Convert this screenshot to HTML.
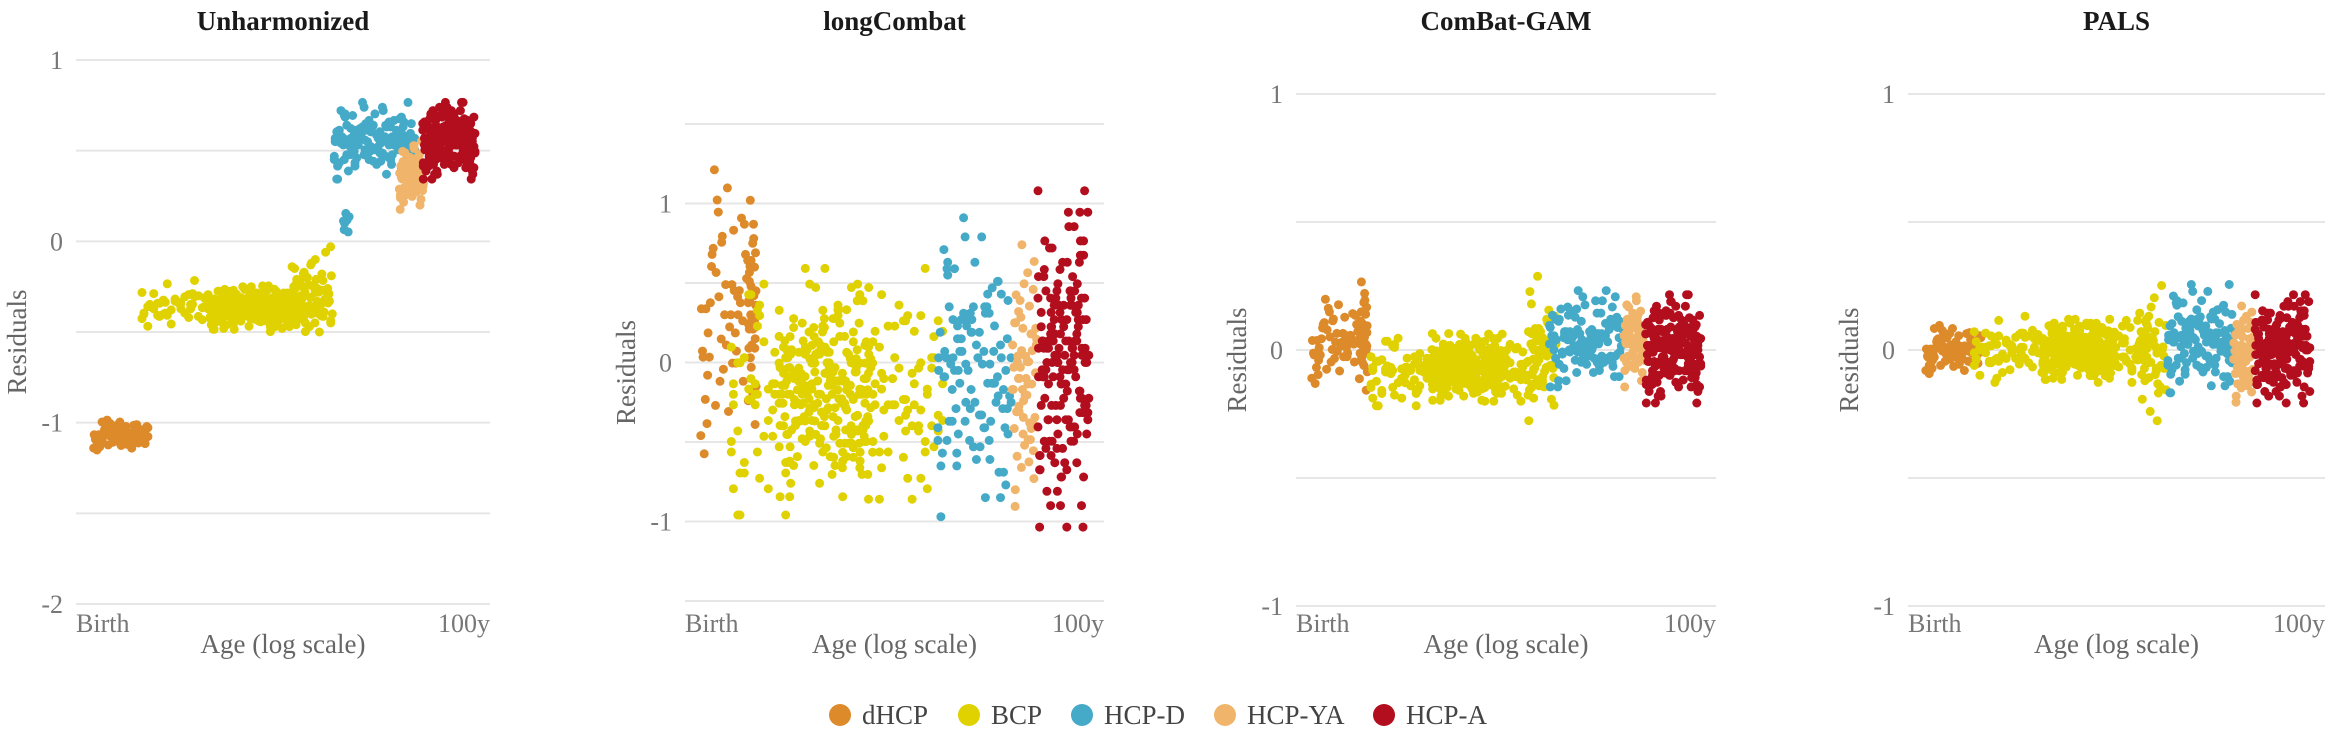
<!DOCTYPE html>
<html>
<head>
<meta charset="utf-8">
<style>
html,body{margin:0;padding:0;background:#fff;}
svg{display:block;}
text{font-family:"Liberation Serif",serif;}
</style>
</head>
<body>
<svg id="chart" width="2330" height="736" viewBox="0 0 2330 736" xmlns="http://www.w3.org/2000/svg"></svg>
<script>
// ---- data ----
const groupNames = ["dHCP","BCP","HCP-D","HCP-YA","HCP-A"];
const groupColors = ["#DD8A2A","#E0D100","#45AAC8","#F0B56A","#B20E1E"];
const panelTitles = ["Unharmonized","longCombat","ComBat-GAM","PALS"];

// clusters per panel: group index, log-age range (0=birth,1=100y), mean residual, spread, count
const p1Group = [0,1,1,1,2,2,3,4];
const p1X0    = [0.04,0.15,0.32,0.52,0.62,0.645,0.78,0.835];
const p1X1    = [0.175,0.62,0.55,0.62,0.82,0.66,0.84,0.965];
const p1Mean  = [-1.07,-0.36,-0.37,-0.27,0.55,0.1,0.36,0.55];
const p1Sd    = [0.035,0.06,0.05,0.1,0.09,0.06,0.08,0.09];
const p1N     = [80,130,220,50,130,8,70,190];

const p2Group = [0,0,1,1,2,3,4];
const p2X0    = [0.035,0.15,0.1,0.22,0.6,0.78,0.84];
const p2X1    = [0.17,0.17,0.62,0.45,0.78,0.84,0.965];
const p2Mean  = [0.3,0.3,-0.2,-0.2,-0.05,-0.1,0.0];
const p2Sd    = [0.38,0.3,0.33,0.28,0.4,0.35,0.45];
const p2N     = [60,30,200,180,110,60,170];

const p3Group = [0,0,1,1,1,2,3,4];
const p3X0    = [0.035,0.15,0.17,0.32,0.55,0.6,0.78,0.83];
const p3X1    = [0.17,0.17,0.6,0.5,0.62,0.78,0.83,0.965];
const p3Mean  = [0.03,0.05,-0.08,-0.07,0.0,0.04,0.04,0.0];
const p3Sd    = [0.07,0.09,0.06,0.055,0.12,0.08,0.08,0.09];
const p3N     = [60,30,180,200,40,120,60,180];

const p4Group = [0,1,1,1,2,3,4];
const p4X0    = [0.04,0.15,0.32,0.55,0.62,0.78,0.83];
const p4X1    = [0.176,0.6,0.5,0.62,0.785,0.83,0.965];
const p4Mean  = [0.0,0.0,0.0,0.0,0.04,-0.02,0.0];
const p4Sd    = [0.04,0.055,0.05,0.12,0.09,0.08,0.09];
const p4N     = [80,180,200,40,120,60,180];

// fixed jitter offsets (position within range, standardized deviation)
const jitterU = [0.03,0.51,0.77,0.22,0.94,0.38,0.65,0.11,0.86,0.47,0.29,0.72,0.05,0.58,0.91,0.34,0.19,0.83,0.44,0.67,0.08,0.97,0.26,0.61,0.13,0.79,0.40,0.55,0.88,0.17,0.70,0.31,0.99,0.46,0.24,0.63,0.06,0.81,0.36,0.53,0.92,0.15,0.74,0.42,0.28,0.60,0.85,0.10,0.68,0.33,0.95,0.21,0.57,0.49,0.02,0.76,0.39,0.89,0.14,0.64,0.27,0.82,0.45,0.71];
const jitterZ = [0.1,-0.8,1.3,-0.2,0.5,-1.6,0.9,0.0,-0.5,2.1,-1.1,0.3,0.7,-0.3,-2.0,1.0,0.2,-0.7,1.6,-0.1,-1.3,0.6,0.4,-0.9,1.2,-0.4,0.0,1.9,-1.5,0.8,-0.6,0.3,-0.2,1.4,-1.0,0.1,-2.3,0.5,0.9,-0.8,0.2,-0.1,1.1,-1.4,0.6,-0.5,2.4,-0.3,0.0,-1.2,0.7,0.4,-0.7,1.7,-0.9,0.2,-1.8,1.0,-0.2,0.3,-0.6,1.5,-1.1,0.8];

const yTicks1 = [1,0,-1,-2];
const yTicks2 = [1,0,-1];
const yTicks3 = [1,0,-1];
const xTickLabels = ["Birth","100y"];
</script>
<script>
const NS = "http://www.w3.org/2000/svg";
const svg = document.getElementById("chart");
function mk(tag, attrs, parent){
  const e = document.createElementNS(NS, tag);
  for (const k in attrs) e.setAttribute(k, attrs[k]);
  (parent||svg).appendChild(e);
  return e;
}
const panels = [
  {left:76, right:490, yMin:-2, yMax:1, top:60, bottom:604, grid:0.5, ticks:yTicks1,
   g:p1Group,x0:p1X0,x1:p1X1,m:p1Mean,s:p1Sd,n:p1N},
  {left:685, right:1104, yMin:-1.5, yMax:1.5, top:124, bottom:601, grid:0.5, ticks:yTicks2,
   g:p2Group,x0:p2X0,x1:p2X1,m:p2Mean,s:p2Sd,n:p2N},
  {left:1296, right:1716, yMin:-1, yMax:1, top:94, bottom:606, grid:0.5, ticks:yTicks3,
   g:p3Group,x0:p3X0,x1:p3X1,m:p3Mean,s:p3Sd,n:p3N},
  {left:1908, right:2325, yMin:-1, yMax:1, top:94, bottom:606, grid:0.5, ticks:yTicks3,
   g:p4Group,x0:p4X0,x1:p4X1,m:p4Mean,s:p4Sd,n:p4N}
];

panels.forEach((p, pi) => {
  const G = mk("g", {});
  
  
  const xs = v => p.left + v*(p.right - p.left);
  const ys = v => p.bottom - (v - p.yMin)/(p.yMax - p.yMin)*(p.bottom - p.top);
  const cx = (p.left + p.right)/2;

  const title = mk("text", {x:cx, y:30, "text-anchor":"middle", "font-size":27, "font-weight":"bold", fill:"#1a1a1a"}, G);
  title.textContent = panelTitles[pi];
  
  

  for (let v = p.yMin; v <= p.yMax + 1e-9; v += p.grid) {
    const ln = mk("line", {x1:p.left, x2:p.right, y1:ys(v), y2:ys(v), stroke:"#e6e6e6", "stroke-width":2}, G);
    
    
  }
  p.ticks.forEach(t => {
    const tx = mk("text", {x:p.left-13, y:ys(t)+9, "text-anchor":"end", "font-size":26, fill:"#777"}, G);
    tx.textContent = t < 0 ? "-" + Math.abs(t) : String(t);
    
    
  });
  const yt = mk("text", {x:0, y:0, "text-anchor":"middle", "font-size":27, fill:"#666",
    transform:"translate(" + (p.left-50) + "," + ((p.top+p.bottom)/2 + 10) + ") rotate(-90)"}, G);
  yt.textContent = "Residuals";
  
  
  const xl = mk("text", {x:p.left, y:632, "text-anchor":"start", "font-size":26, fill:"#777"}, G);
  xl.textContent = xTickLabels[0];
  
  
  const xr = mk("text", {x:p.right, y:632, "text-anchor":"end", "font-size":26, fill:"#777"}, G);
  xr.textContent = xTickLabels[1];
  
  
  const xt = mk("text", {x:cx, y:653, "text-anchor":"middle", "font-size":27, fill:"#666"}, G);
  xt.textContent = "Age (log scale)";
  
  

  const PG = mk("g", {}, G);
  
  
  for (let gi = 0; gi < groupNames.length; gi++) {
    for (let k = 0; k < p.g.length; k++) {
      if (p.g[k] !== gi) continue;
      for (let i = 0; i < p.n[k]; i++) {
        const b = Math.floor(i/64);
        const u = jitterU[(i + 3*k + 17*b) % 64];
        const z = jitterZ[(5*i + 13*b + 11*k) % 64];
        const xv = p.x0[k] + u*(p.x1[k] - p.x0[k]);
        const yv = p.m[k] + z*p.s[k];
        const c = mk("circle", {cx:xs(xv).toFixed(1), cy:ys(yv).toFixed(1), r:4.5, fill:groupColors[gi]}, PG);
        
        
      }
    }
  }
});

const legendX = [840,969,1082,1225,1384];
const LG = mk("g", {});


groupNames.forEach((name, i) => {
  const c = mk("circle", {cx:legendX[i], cy:715, r:11, fill:groupColors[i]}, LG);
  
  
  const t = mk("text", {x:legendX[i]+22, y:724, "font-size":27, fill:"#444"}, LG);
  t.textContent = name;
  
  
});
</script>
</body>
</html>
